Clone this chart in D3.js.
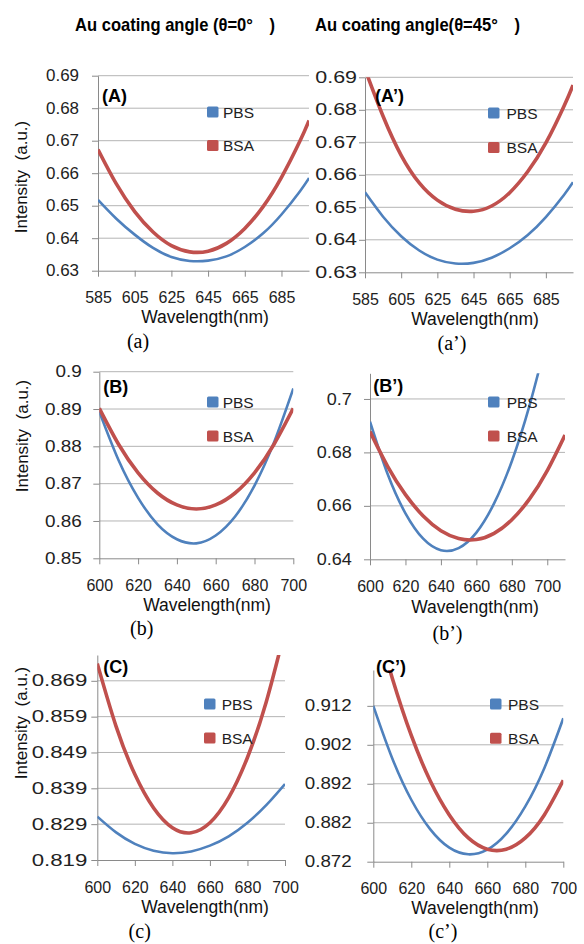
<!DOCTYPE html>
<html>
<head>
<meta charset="utf-8">
<script src="https://cdnjs.cloudflare.com/ajax/libs/d3/7.8.5/d3.min.js"></script>
<style>
  body { margin: 0; background: #fff; }
  svg { display: block; }
</style>
</head>
<body>
<script>
// values, intensity in a.u., wavelength in nm
var wlA = [585, 595, 605, 615, 625, 635, 645, 655, 665, 675, 685, 695, 700];
var pbsA = [0.6518, 0.6460, 0.6411, 0.6370, 0.6342, 0.6330, 0.6331, 0.6344, 0.6373, 0.6415, 0.6473, 0.6544, 0.6585];
var bsaA = [0.6673, 0.6567, 0.6482, 0.6419, 0.6377, 0.6358, 0.6360, 0.6384, 0.6430, 0.6497, 0.6587, 0.6698, 0.6762];
var pbsA2 = [0.6546, 0.6471, 0.6411, 0.6367, 0.6339, 0.6327, 0.6329, 0.6345, 0.6374, 0.6415, 0.6470, 0.6538, 0.6577];
var bsaA2 = [0.6925, 0.6780, 0.6660, 0.6575, 0.6522, 0.6494, 0.6488, 0.6504, 0.6545, 0.6610, 0.6698, 0.6811, 0.6876];

var wl100 = [600, 610, 620, 630, 640, 650, 660, 670, 680, 690, 700];
var wl110 = [600, 610, 620, 630, 640, 650, 660, 670, 680, 690, 700, 710];
var pbsB = [0.8893, 0.8762, 0.8662, 0.8591, 0.8551, 0.8540, 0.8561, 0.8612, 0.8695, 0.8810, 0.8955];
var bsaB = [0.8902, 0.8805, 0.8729, 0.8675, 0.8643, 0.8632, 0.8643, 0.8675, 0.8729, 0.8805, 0.8902];
var pbsB2 = [0.6915, 0.6718, 0.6572, 0.6477, 0.6434, 0.6442, 0.6500, 0.6609, 0.6767, 0.6976, 0.7230];
var bsaB2 = [0.6878, 0.6747, 0.6642, 0.6562, 0.6507, 0.6478, 0.6474, 0.6497, 0.6548, 0.6626, 0.6732, 0.6865];

var pbsC = [0.8311, 0.8267, 0.8235, 0.8216, 0.8209, 0.8214, 0.8230, 0.8256, 0.8294, 0.8343, 0.8402];
var bsaC = [0.8738, 0.8563, 0.8429, 0.8335, 0.8280, 0.8266, 0.8294, 0.8364, 0.8476, 0.8631, 0.8832];
var pbsC2 = [0.9120, 0.8985, 0.8879, 0.8803, 0.8756, 0.8739, 0.8751, 0.8792, 0.8862, 0.8960, 0.9088];
var bsaC2 = [0.9360, 0.9191, 0.9044, 0.8927, 0.8840, 0.8781, 0.8752, 0.8752, 0.8781, 0.8840, 0.8929];

var xTicks585 = [585, 605, 625, 645, 665, 685];
var xTicks600 = [600, 620, 640, 660, 680, 700];
var yTicksA = [0.63, 0.64, 0.65, 0.66, 0.67, 0.68, 0.69];
var yLabelsA = ["0.63", "0.64", "0.65", "0.66", "0.67", "0.68", "0.69"];
var yTicksB = [0.85, 0.86, 0.87, 0.88, 0.89, 0.9];
var yLabelsB = ["0.85", "0.86", "0.87", "0.88", "0.89", "0.9"];
var yTicksB2 = [0.64, 0.66, 0.68, 0.7];
var yLabelsB2 = ["0.64", "0.66", "0.68", "0.7"];
var yTicksC = [0.819, 0.829, 0.839, 0.849, 0.859, 0.869];
var yLabelsC = ["0.819", "0.829", "0.839", "0.849", "0.859", "0.869"];
var yTicksC2 = [0.872, 0.882, 0.892, 0.902, 0.912];
var yLabelsC2 = ["0.872", "0.882", "0.892", "0.902", "0.912"];

var titles = ["Au coating angle (\u03b8=0\u00b0\u3000)", "Au coating angle(\u03b8=45\u00b0\u3000)"];
var seriesNames = ["PBS", "BSA"];
var colors = ["#4f81bd", "#c0504d"];
var widths = [2.6, 3.6];

var width = 584,
  height = 944;

var svg = d3
  .select("body")
  .append("svg")
  .attr("width", width)
  .attr("height", height)
  .style("font-family", "'Liberation Sans', Arial, sans-serif");

var panels = [
  { tag: "(A)", cap: "(a)", box: [98, 309, 75.7, 270.7], xd: [585, 700], yd: [0.63, 0.69],
    xt: xTicks585, yt: yTicksA, yl: yLabelsA, wl: [wlA, wlA], ys: [pbsA, bsaA],
    labX: 79, stretch: 1.06, lab: [102, 102], leg: [207, 223, 112, 145.5], xlab: [205, 323], capPos: [138, 348], yTitle: [27, 177] },
  { tag: "(A\u2019)", cap: "(a\u2019)", box: [365, 573, 77.3, 272.3], xd: [585, 700], yd: [0.63, 0.69],
    xt: xTicks585, yt: yTicksA, yl: yLabelsA, wl: [wlA, wlA], ys: [pbsA2, bsaA2],
    labX: 357, stretch: 1.34, lab: [375, 101.5], leg: [488, 506.5, 113, 147.5], xlab: [475, 324.5], capPos: [452, 350] },
  { tag: "(B)", cap: "(b)", box: [99.3, 293.3, 371.7, 558.3], xd: [600, 700], yd: [0.85, 0.9],
    xt: xTicks600, yt: yTicksB, yl: yLabelsB, wl: [wl100, wl100], ys: [pbsB, bsaB],
    labX: 81.7, stretch: 1.18, lab: [103.3, 393], leg: [207, 222.7, 402, 436], xlab: [207, 611], capPos: [141.7, 635], yTitle: [28, 436] },
  { tag: "(B\u2019)", cap: "(b\u2019)", box: [370, 565, 373.3, 559.3], xd: [600, 710], yd: [0.64, 0.7096],
    xt: xTicks600, yt: yTicksB2, yl: yLabelsB2, wl: [wl100, wl110], ys: [pbsB2, bsaB2],
    labX: 351.7, stretch: 1.125, lab: [373.3, 391.7], leg: [488, 506.7, 402, 436], xlab: [475, 613], capPos: [447.5, 640] },
  { tag: "(C)", cap: "(c)", box: [97.3, 285, 655, 860], xd: [600, 700], yd: [0.819, 0.8762],
    xt: xTicks600, yt: yTicksC, yl: yLabelsC, wl: [wl100, wl100], ys: [pbsC, bsaC],
    labX: 87.3, stretch: 1.39, lab: [103.3, 673], leg: [204, 221.7, 704, 738], xlab: [205, 913], capPos: [139.7, 938], yTitle: [27, 723] },
  { tag: "(C\u2019)", cap: "(c\u2019)", box: [373.3, 563.3, 670, 861.7], xd: [600, 700], yd: [0.872, 0.9212],
    xt: xTicks600, yt: yTicksC2, yl: yLabelsC2, wl: [wl100, wl100], ys: [pbsC2, bsaC2],
    labX: 351.7, stretch: 1.17, lab: [376, 673], leg: [490, 508, 704, 738.3], xlab: [475, 914], capPos: [443, 938] }
];

svg.selectAll("text.title")
  .data(titles)
  .enter()
  .append("text")
  .attr("class", "title")
  .attr("x", function (d, i) { return i == 0 ? 75 : 315; })
  .attr("y", 31)
  .attr("textLength", function (d, i) { return i == 0 ? 200 : 205; })
  .attr("lengthAdjust", "spacingAndGlyphs")
  .style("font-size", "19px")
  .style("font-weight", "bold")
  .text(function (d) { return d; });

panels.forEach(function (p, k) {
  var x = d3.scaleLinear().domain(p.xd).range([p.box[0], p.box[1]]);
  var y = d3.scaleLinear().domain(p.yd).range([p.box[3], p.box[2]]);
  var g = svg.append("g");

  g.append("clipPath")
    .attr("id", "clip" + k)
    .append("rect")
    .attr("x", p.box[0])
    .attr("y", p.box[2])
    .attr("width", p.box[1] - p.box[0])
    .attr("height", p.box[3] - p.box[2]);

  g.selectAll("line.grid")
    .data(p.yt.slice(1))
    .enter()
    .append("line")
    .attr("x1", p.box[0])
    .attr("x2", p.box[1])
    .attr("y1", function (d) { return y(d); })
    .attr("y2", function (d) { return y(d); })
    .style("stroke", "#b4b4b4")
    .style("stroke-width", 1);

  var yAxis = g.append("g")
    .attr("transform", "translate(" + p.box[0] + ",0)")
    .call(d3.axisLeft(y).tickValues(p.yt).tickSize(6).tickSizeOuter(0)
      .tickFormat(function (d, i) { return p.yl[i]; }));
  yAxis.selectAll("text")
    .attr("x", -(p.box[0] - p.labX))
    .style("font-size", "16px")
    .style("fill", "#222")
    .each(function () {
      var w = this.getComputedTextLength();
      d3.select(this).attr("textLength", w * p.stretch).attr("lengthAdjust", "spacingAndGlyphs");
    });

  var xAxis = g.append("g")
    .attr("transform", "translate(0," + p.box[3] + ")")
    .call(d3.axisBottom(x).tickValues(p.xt).tickSize(6).tickSizeOuter(0));
  xAxis.selectAll("text")
    .attr("y", 32.5)
    .attr("dy", 0)
    .style("font-size", "16px")
    .style("fill", "#222");

  g.selectAll(".domain, .tick line").style("stroke", "#8a8a8a").style("stroke-width", 1);

  var line = d3.line()
    .x(function (d) { return x(d[0]); })
    .y(function (d) { return y(d[1]); })
    .curve(d3.curveNatural);

  p.ys.forEach(function (vals, s) {
    g.append("path")
      .datum(d3.zip(p.wl[s], vals))
      .attr("clip-path", "url(#clip" + k + ")")
      .attr("d", line)
      .style("fill", "none")
      .style("stroke", colors[s])
      .style("stroke-width", widths[s]);
  });

  g.append("text")
    .attr("x", p.lab[0])
    .attr("y", p.lab[1])
    .style("font-size", "18px")
    .style("font-weight", "bold")
    .text(p.tag);

  var leg = g.selectAll("g.leg")
    .data(seriesNames)
    .enter()
    .append("g")
    .attr("transform", function (d, i) {
      return "translate(0," + (i == 0 ? p.leg[2] : p.leg[3]) + ")";
    });
  leg.append("rect")
    .attr("x", p.leg[0])
    .attr("y", -5.5)
    .attr("width", 11.5)
    .attr("height", 11)
    .attr("rx", 1.5)
    .style("fill", function (d, i) { return colors[i]; });
  leg.append("text")
    .attr("x", p.leg[1])
    .attr("y", 5.5)
    .style("font-size", "15.5px")
    .style("fill", "#222")
    .text(function (d) { return d; });

  g.append("text")
    .attr("x", p.xlab[0])
    .attr("y", p.xlab[1])
    .style("text-anchor", "middle")
    .style("font-size", "17.5px")
    .style("fill", "#111")
    .text("Wavelength(nm)");

  if (p.yTitle) {
    g.append("text")
      .attr("transform", "translate(" + p.yTitle[0] + "," + p.yTitle[1] + ") rotate(-90)")
      .style("text-anchor", "middle")
      .style("font-size", "17px")
      .style("fill", "#111")
      .style("white-space", "pre")
      .text("Intensity  (a.u.)");
  }

  g.append("text")
    .attr("x", p.capPos[0])
    .attr("y", p.capPos[1])
    .style("text-anchor", "middle")
    .style("font-family", "'Liberation Serif', 'Times New Roman', serif")
    .style("font-size", "20px")
    .text(p.cap);
});
</script>
</body>
</html>
